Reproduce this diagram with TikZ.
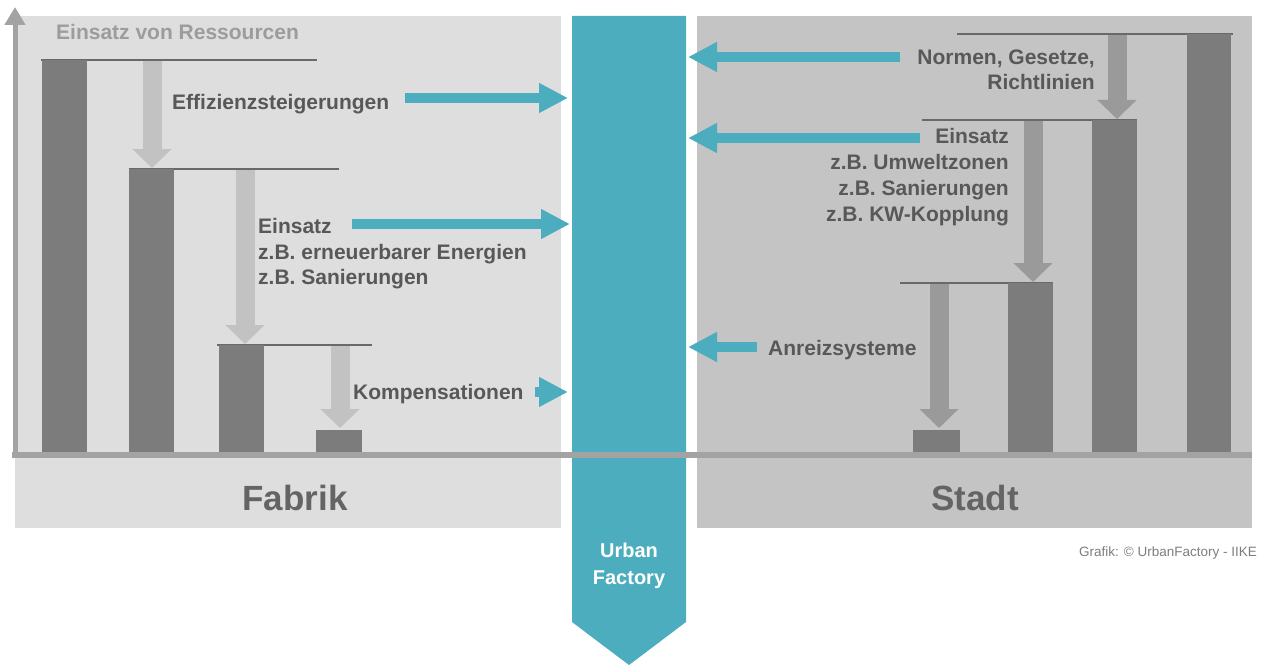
\documentclass[tikz,border=0pt]{standalone}
\usepackage{fontspec}
\setmainfont{Liberation Sans}
\usetikzlibrary{arrows.meta}
\definecolor{ufteal}{RGB}{75,173,190}
\definecolor{fabbg}{RGB}{222,222,222}
\definecolor{stadbg}{RGB}{196,196,196}
\definecolor{barcol}{RGB}{124,124,124}
\definecolor{lightarr}{RGB}{194,194,194}
\definecolor{midarr}{RGB}{154,154,154}
\definecolor{axiscol}{RGB}{163,163,163}
\definecolor{linecol}{RGB}{105,105,105}
\definecolor{txtcol}{RGB}{88,88,88}
\definecolor{lighttxt}{RGB}{156,156,156}
\definecolor{bigtxt}{RGB}{100,100,100}
\definecolor{credit}{RGB}{125,125,125}
\begin{document}
\begin{tikzpicture}[x=1pt,y=-1pt,
  lbl/.style={font=\fontsize{21}{25.5}\selectfont\bfseries, text=txtcol, inner sep=0pt},
  big/.style={font=\fontsize{35}{40}\selectfont\bfseries, text=bigtxt, inner sep=0pt},
  barbox/.style={fill=barcol},
  level/.style={draw=linecol, line width=2pt},
  tealR/.style={draw=ufteal, line width=10pt, -{Triangle[length=29pt,width=28pt]}},
  downL/.style={draw=lightarr, line width=19pt, -{Triangle[length=19pt,width=38pt]}},
  downR/.style={draw=midarr, line width=19pt, -{Triangle[length=19pt,width=38pt]}}]
\useasboundingbox (0,0) rectangle (1265,666);
% panels
\fill[fabbg] (15,16) rectangle (561,528);
\fill[stadbg] (697,16) rectangle (1252,528);
\fill[ufteal] (572,16) -- (686,16) -- (686,622) -- (629,665) -- (572,622) -- cycle;
% level lines
\draw[level] (41,60) -- (317,60);
\draw[level] (129,169) -- (339,169);
\draw[level] (217,345) -- (372,345);
\draw[level] (957,34) -- (1233,34);
\draw[level] (922,120) -- (1137,120);
\draw[level] (900,283) -- (1053,283);
% bars
\fill[barbox] (42,60) rectangle (87,455);
\fill[barbox] (129,169) rectangle (174,455);
\fill[barbox] (219,345) rectangle (264,455);
\fill[barbox] (316,430) rectangle (362,455);
\fill[barbox] (913,430) rectangle (960,456);
\fill[barbox] (1008,283) rectangle (1053,455);
\fill[barbox] (1092,120) rectangle (1137,455);
\fill[barbox] (1187,34) rectangle (1231,455);
% down arrows
\draw[downL] (152,61) -- (152,168);
\draw[downL] (245,170) -- (245,344);
\draw[downL] (340,346) -- (340,428);
\draw[downR] (1117,35) -- (1117,119);
\draw[downR] (1033,121) -- (1033,282);
\draw[downR] (939,284) -- (939,428);
% axes
\draw[axiscol, line width=6pt] (12,455) -- (1252,455);
\draw[axiscol, line width=5pt, -{Triangle[length=18pt,width=20pt]}] (15,458) -- (15,7);
% texts
\node[lbl, text=lighttxt, anchor=west] (ress) at (56,32) {Einsatz von Ressourcen};
\node[lbl, anchor=west] (effi) at (172,104) {Effizienzsteigerungen};
\node[lbl, anchor=west, align=left] (einL) at (258,254) {Einsatz\\z.B. erneuerbarer Energien\\z.B. Sanierungen};
\node[lbl, anchor=west] (komp) at (353,394) {Kompensationen};
\node[lbl, anchor=east, align=right] (norm) at (1095,70) {Normen, Gesetze,\\Richtlinien};
\node[lbl, anchor=east, align=right, font=\fontsize{21}{26}\selectfont\bfseries] (einR) at (1009,177) {Einsatz\\z.B. Umweltzonen\\z.B. Sanierungen\\z.B. KW-Kopplung};
\node[lbl, anchor=west] (anr) at (768,350) {Anreizsysteme};
\node[big] (fab) at (295,498) {Fabrik};
\node[big] (std) at (975,498) {Stadt};
\node[lbl, text=white, align=center, font=\fontsize{20}{27}\selectfont\bfseries] (uf) at (629,566) {Urban\\Factory};
\node[anchor=east, inner sep=0pt, text=credit, font=\fontsize{13.5}{15}\selectfont] (credit) at (1257,553) {Grafik: © UrbanFactory - IIKE};
% teal arrows
\draw[tealR] (405,98) -- (568,98);
\draw[tealR] (352,224) -- (570,224);
\draw[tealR] (535,392) -- (568,392);
\draw[tealR] (900,57) -- (688,57);
\draw[tealR] (920,138) -- (688,138);
\draw[tealR] (757,347) -- (688,347);
\end{tikzpicture}
\end{document}
